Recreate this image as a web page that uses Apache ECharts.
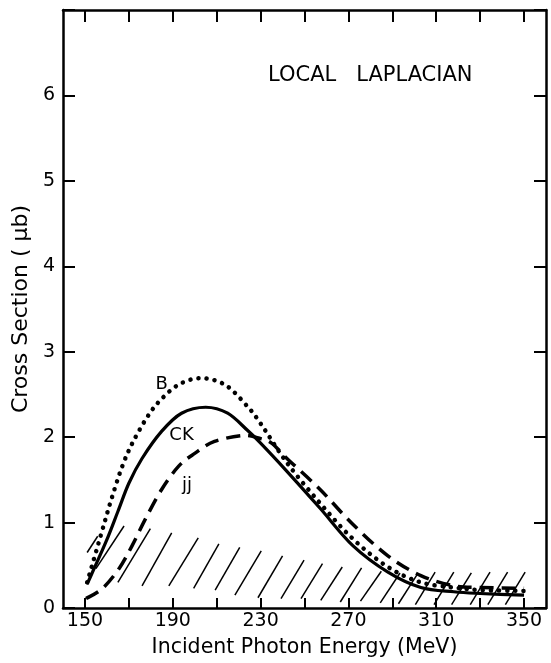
<!DOCTYPE html>
<html>
<head>
<meta charset="utf-8">
<script src="https://cdn.jsdelivr.net/npm/echarts@6/dist/echarts.min.js"></script>
<style>
  html, body { margin: 0; padding: 0; background: #fff; }
  #chart { width: 551px; height: 663px; }
</style>
</head>
<body>
<div id="chart"></div>
<script>
// Photoproduction cross section vs incident photon energy, local Laplacian model
const xTicks = [150, 170, 190, 210, 230, 250, 270, 290, 310, 330, 350];
const xTickLabels = [150, 190, 230, 270, 310, 350];
const yTickLabels = [0, 1, 2, 3, 4, 5, 6];

// Curve B (dotted)
const energyB = [151, 158, 162, 167, 172, 179, 185, 193, 203, 214, 224, 230, 242, 257, 272, 288, 303, 318, 330, 350];
const sigmaB  = [0.30, 0.92, 1.27, 1.66, 1.95, 2.26, 2.45, 2.62, 2.69, 2.61, 2.36, 2.16, 1.70, 1.23, 0.81, 0.48, 0.30, 0.24, 0.21, 0.20];

// Curve CK (solid)
const energyCK = [151, 159.5, 165, 170, 176, 185, 194, 205, 215, 224, 230, 242, 257, 272, 288, 303, 318, 330, 350];
const sigmaCK  = [0.28, 0.77, 1.13, 1.46, 1.75, 2.07, 2.28, 2.35, 2.28, 2.08, 1.93, 1.60, 1.17, 0.73, 0.42, 0.24, 0.19, 0.17, 0.15];

// Curve jj (dashed)
const energyJJ = [150.5, 158, 165.5, 171.5, 177.5, 185, 192.7, 200, 209, 222, 229, 235, 242, 257, 272, 288, 303, 318, 330, 350];
const sigmaJJ  = [0.11, 0.23, 0.46, 0.73, 1.04, 1.39, 1.66, 1.81, 1.95, 2.02, 1.99, 1.93, 1.75, 1.39, 0.98, 0.61, 0.38, 0.26, 0.24, 0.23];

// Curve name labels
const curveNames  = ['B', 'CK', 'jj'];
const labelEnergy = [185, 194, 196.5];
const labelSigma  = [2.62, 2.02, 1.44];

// Hatched band: each stroke runs from (hatchE0, hatchV0) to (hatchE1, hatchV1)
const hatchE0 = [151, 155, 165, 176, 188.2, 199.5, 209.3, 218.3, 228.8, 239.3, 248.4, 257.4, 266.3, 275.5, 284.5, 292.8, 300.5, 309, 317, 325.5, 333.5, 341.5];
const hatchV0 = [0.65, 0.46, 0.30, 0.26, 0.26, 0.23, 0.21, 0.15, 0.12, 0.11, 0.11, 0.09, 0.07, 0.08, 0.06, 0.05, 0.04, 0.04, 0.04, 0.04, 0.04, 0.04];
const hatchE1 = [155.8, 167.8, 179.8, 189.5, 201.6, 211, 220.5, 230.3, 240, 249.8, 258.2, 267.2, 276, 285, 293.5, 301.5, 309.5, 318, 326, 334.5, 342.5, 350.5];
const hatchV1 = [0.84, 0.96, 0.93, 0.88, 0.82, 0.75, 0.71, 0.67, 0.61, 0.56, 0.52, 0.48, 0.47, 0.43, 0.41, 0.40, 0.42, 0.42, 0.41, 0.42, 0.42, 0.42];

const zip = (a, b) => a.map((v, i) => [v, b[i]]);
const FONT = '"DejaVu Sans", "Liberation Sans", sans-serif';

const chart = echarts.init(document.getElementById('chart'), null, { renderer: 'canvas' });

const axisLine = { show: true, onZero: false, lineStyle: { color: '#000', width: 2.5 } };
const tickStyle = { color: '#000', width: 2 };

// Smooth curve through all points of a series (Catmull-Rom converted to cubic Bezier),
// positioned with the axis scales via api.coord.
function splineSeries(name, data, lineStyle) {
  return {
    name: name, type: 'custom', xAxisIndex: 0, yAxisIndex: 0,
    data: data, silent: true, z: 3,
    renderItem: (params, api) => {
      if (params.dataIndex !== 0) return null;
      const p = data.map(d => api.coord(d));
      let d = 'M' + p[0][0] + ' ' + p[0][1];
      for (let i = 0; i < p.length - 1; i++) {
        const a = p[Math.max(i - 1, 0)], b = p[i], c = p[i + 1], e = p[Math.min(i + 2, p.length - 1)];
        const c1x = b[0] + (c[0] - a[0]) / 6, c1y = b[1] + (c[1] - a[1]) / 6;
        const c2x = c[0] - (e[0] - b[0]) / 6, c2y = c[1] - (e[1] - b[1]) / 6;
        d += ' C' + c1x + ' ' + c1y + ' ' + c2x + ' ' + c2y + ' ' + c[0] + ' ' + c[1];
      }
      return {
        type: 'path',
        shape: { pathData: d },
        style: Object.assign({ fill: null, stroke: '#000' }, lineStyle)
      };
    }
  };
}

const option = {
  animation: false,
  backgroundColor: '#fff',
  grid: { left: 63, right: 5, top: 10, bottom: 50, containLabel: false },
  graphic: [{
    type: 'text',
    left: 268, top: 65,
    style: { text: 'LOCAL   LAPLACIAN', font: '21px ' + FONT, fill: '#000' }
  }],
  xAxis: [{
    type: 'value', position: 'bottom', min: 140, max: 360,
    axisLine: axisLine,
    axisTick: { show: true, inside: true, length: 10, customValues: xTicks, lineStyle: tickStyle },
    axisLabel: { show: true, customValues: xTickLabels, margin: 4, color: '#000', fontSize: 19, fontFamily: FONT },
    splitLine: { show: false },
    name: 'Incident Photon Energy (MeV)', nameLocation: 'middle', nameGap: 29,
    nameTextStyle: { color: '#000', fontSize: 20.5, fontFamily: FONT }
  }, {
    type: 'value', position: 'top', min: 140, max: 360,
    axisLine: axisLine,
    axisTick: { show: true, inside: true, length: 12, customValues: xTicks, lineStyle: tickStyle },
    axisLabel: { show: false },
    splitLine: { show: false }
  }],
  yAxis: [{
    type: 'value', position: 'left', min: 0, max: 7, interval: 1,
    axisLine: axisLine,
    axisTick: { show: true, inside: true, length: 12, lineStyle: tickStyle },
    axisLabel: { show: true, margin: 8, color: '#000', fontSize: 19, fontFamily: FONT,
      formatter: v => (yTickLabels.indexOf(v) >= 0 ? String(v) : '') },
    splitLine: { show: false },
    name: 'Cross Section ( \u03bcb)', nameLocation: 'middle', nameGap: 30, nameRotate: 90,
    nameTextStyle: { color: '#000', fontSize: 22, fontFamily: FONT }
  }, {
    type: 'value', position: 'right', min: 0, max: 7, interval: 1,
    axisLine: axisLine,
    axisTick: { show: true, inside: true, length: 12, lineStyle: tickStyle },
    axisLabel: { show: false },
    splitLine: { show: false }
  }],
  series: [
    {
      name: 'hatch', type: 'custom', xAxisIndex: 0, yAxisIndex: 0,
      data: hatchE0.map((e, i) => [e, hatchV0[i], hatchE1[i], hatchV1[i]]),
      renderItem: (params, api) => {
        const p0 = api.coord([api.value(0), api.value(1)]);
        const p1 = api.coord([api.value(2), api.value(3)]);
        return {
          type: 'line',
          shape: { x1: p0[0], y1: p0[1], x2: p1[0], y2: p1[1] },
          style: { stroke: '#000', lineWidth: 1.5 }
        };
      },
      silent: true, z: 1
    },
    splineSeries('B', zip(energyB, sigmaB), { lineWidth: 4.5, lineDash: [0.1, 8], lineCap: 'round' }),
    splineSeries('CK', zip(energyCK, sigmaCK), { lineWidth: 3.2 }),
    splineSeries('jj', zip(energyJJ, sigmaJJ), { lineWidth: 3.5, lineDash: [14, 8], lineCap: 'butt' }),
    {
      name: 'curve names', type: 'scatter', symbolSize: 0, silent: true, z: 4,
      itemStyle: { opacity: 1, color: '#000' },
      data: labelEnergy.map((e, i) => [e, labelSigma[i], curveNames[i]]),
      label: { show: true, position: 'inside', color: '#000', opacity: 1, fontSize: 18, fontFamily: FONT,
        formatter: p => p.value[2] }
    }
  ]
};

chart.setOption(option);
</script>
</body>
</html>
